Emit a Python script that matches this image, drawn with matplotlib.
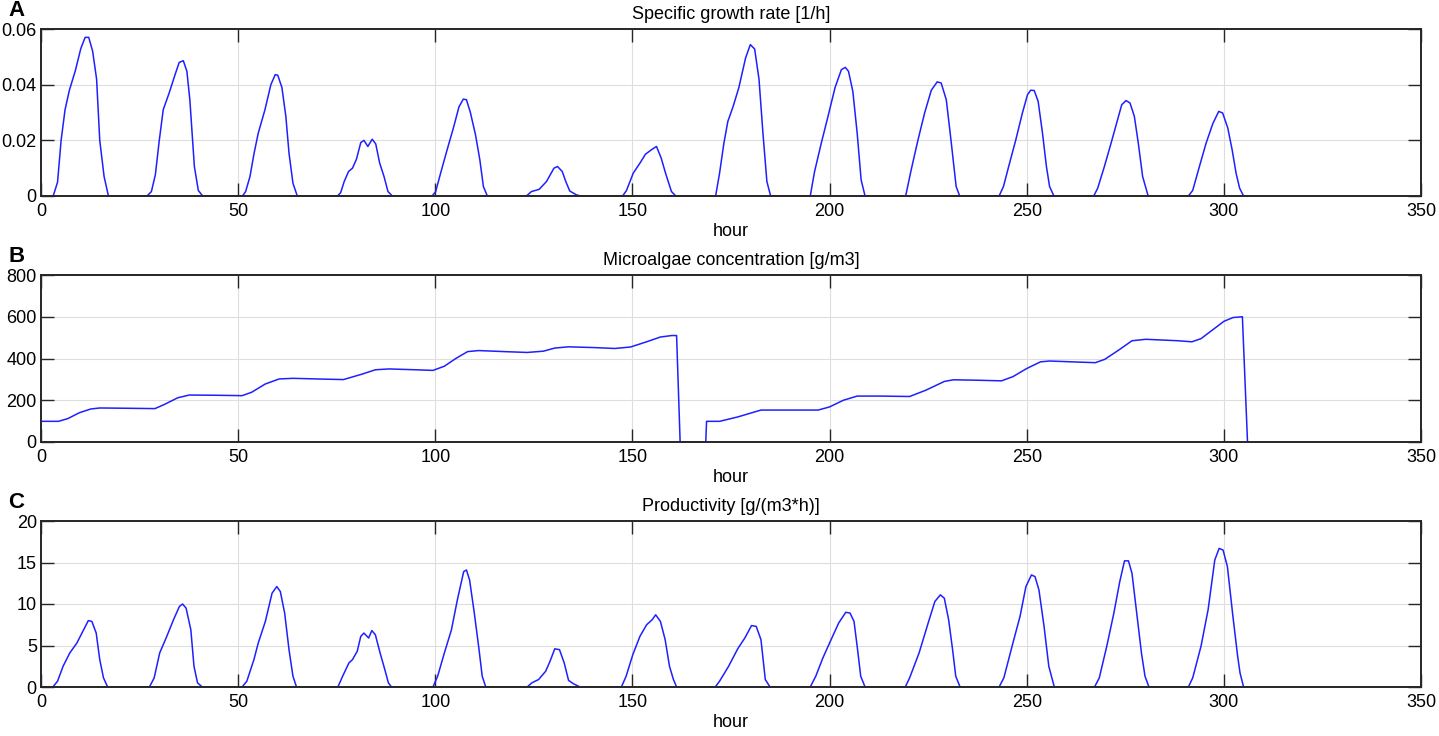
import matplotlib
matplotlib.use('Agg')
import matplotlib.pyplot as plt

plt.rcParams['font.family'] = ['Liberation Sans', 'DejaVu Sans']

# 1. Data
# A: specific growth rate [1/h]
a_hour = [0, 3.1, 4.2, 5.1, 6.1, 7.2, 8.7, 10.1, 11.2, 12.1, 13.1, 14.1, 14.9, 16.0, 17.1,
          26.9, 28.0, 29.0, 30.0, 31.0, 32.5, 34.0, 35.05, 36.1, 37.0, 37.75, 38.9, 39.9, 41.0,
          51.1, 51.9, 53.0, 54.05, 55.1, 56.8, 58.3, 59.4, 60.05, 61.1, 62.1, 62.9, 63.9, 65.0,
          75.2, 76.0, 76.9, 78.0, 79.0, 80.0, 81.1, 81.9, 82.9, 84.0, 84.9, 85.9, 87.0, 88.0, 89.1,
          99.2, 100.1, 101.35, 103.0, 104.7, 106.0, 107.1, 107.9, 108.9, 110.2, 111.3, 112.2, 113.2,
          123.1, 124.4, 126.35, 128.2, 130.1, 131.0, 132.2, 133.1, 134.1, 135.8, 136.9,
          147.5, 148.5, 150.2, 151.9, 153.3, 154.8, 156.1, 157.3, 158.4, 159.9, 161.0,
          171.1, 172.1, 173.2, 174.2, 175.5, 177.0, 178.7, 179.9, 181.0, 182.1, 183.1, 184.1, 185.05,
          195.1, 196.2, 197.9, 199.6, 201.4, 203.0, 204.0, 204.8, 205.9, 207.0, 208.0, 209.0,
          219.3, 220.7, 222.4, 224.1, 225.8, 227.3, 228.3, 229.6, 230.8, 232.1, 233.0,
          243.0, 244.1, 245.5, 247.2, 248.9, 250.2, 251.0, 251.9, 252.9, 254.0, 255.0, 255.8, 256.9,
          267.0, 268.0, 269.7, 271.4, 273.05, 274.1, 275.2, 276.2, 277.3, 278.3, 279.4, 280.8,
          291.0, 292.1, 293.8, 295.5, 297.2, 298.7, 299.7, 301.0, 302.1, 303.1, 304.0, 305.0, 306.0]
a_rate = [0, 0, 0.005, 0.020, 0.031, 0.038, 0.045, 0.053, 0.057, 0.057, 0.052, 0.042, 0.020, 0.007, 0,
          0, 0.0016, 0.0076, 0.020, 0.031, 0.037, 0.0436, 0.048, 0.0486, 0.0448, 0.0346, 0.0106, 0.002, 0,
          0, 0.0016, 0.007, 0.0154, 0.0226, 0.031, 0.040, 0.0436, 0.0434, 0.039, 0.0286, 0.0154, 0.0046, 0,
          0, 0.0012, 0.0052, 0.0088, 0.010, 0.0132, 0.0192, 0.020, 0.0178, 0.0204, 0.0187, 0.0118, 0.007, 0.0016, 0,
          0, 0.0016, 0.0082, 0.0166, 0.025, 0.032, 0.0348, 0.0346, 0.030, 0.022, 0.013, 0.0034, 0,
          0, 0.0016, 0.0024, 0.0052, 0.010, 0.0106, 0.0088, 0.0052, 0.0018, 0.0004, 0,
          0, 0.002, 0.0082, 0.0118, 0.015, 0.0166, 0.0178, 0.0136, 0.0082, 0.0016, 0,
          0, 0.0082, 0.019, 0.0268, 0.032, 0.039, 0.0496, 0.0544, 0.0528, 0.042, 0.0226, 0.0052, 0,
          0, 0.0088, 0.019, 0.0286, 0.039, 0.0454, 0.0462, 0.0448, 0.0376, 0.0226, 0.0058, 0,
          0, 0.0094, 0.020, 0.0298, 0.038, 0.041, 0.0406, 0.0346, 0.020, 0.0034, 0,
          0, 0.0034, 0.011, 0.020, 0.0298, 0.0364, 0.038, 0.0379, 0.034, 0.0226, 0.0106, 0.0034, 0,
          0, 0.0028, 0.0106, 0.019, 0.0274, 0.0328, 0.0343, 0.0334, 0.0286, 0.019, 0.007, 0,
          0, 0.002, 0.0106, 0.019, 0.026, 0.0304, 0.0298, 0.0244, 0.0166, 0.0082, 0.0028, 0, 0]

# B: microalgae concentration [g/m3]
b_hour = [0, 4.4, 6.8, 9.7, 12.6, 14.9, 20, 28.9, 31.2, 34.7, 37.6, 44, 51, 53.4, 56.9, 60.4,
          63.9, 70, 76.7, 81.4, 84.8, 88.3, 95, 99.4, 102.3, 105.2, 108.2, 111, 117.5, 123.3,
          127.4, 130.3, 133.8, 140.8, 145.5, 149.5, 153.6, 157.1, 160, 161.2, 162.1, 168.6,
          168.8, 172.1, 176.7, 182.6, 189.5, 197.1, 200, 203.5, 207, 212.8, 220.3, 224.4, 229.1,
          231.4, 237.2, 243.6, 246.5, 250, 253.5, 255.8, 262.8, 267.4, 269.8, 273.3, 276.7,
          280.2, 288.4, 291.9, 294.2, 297.7, 300, 302.3, 304.7, 306]
b_conc = [99, 99, 112, 140, 158, 163, 162, 160, 179, 212, 225, 224, 222, 238, 278, 302,
          305, 302, 299, 325, 346, 350, 346, 343, 363, 400, 433, 438, 433, 429,
          435, 450, 456, 452, 448, 455, 480, 503, 510, 510, 0, 0,
          99, 99, 120, 153, 153, 153, 168, 200, 220, 220, 218, 248, 290,
          298, 296, 293, 313, 352, 384, 388, 383, 380, 396, 440, 485,
          492, 485, 480, 495, 545, 578, 596, 600, 0]

# C: productivity [g/(m3*h)]
c_hour = [0, 3.0, 4.2, 5.6, 7.3, 9.1, 10.8, 12.0, 12.9, 14.0, 14.9, 15.85, 16.9,
          27.5, 28.7, 30.1, 31.9, 33.6, 35.1, 35.9, 36.8, 38.0, 38.8, 39.7, 40.9,
          51.0, 52.2, 54.0, 55.1, 56.9, 58.6, 59.8, 60.7, 61.8, 62.9, 63.9, 64.8,
          75.3, 76.5, 78.1, 79.0, 80.2, 81.1, 81.9, 83.1, 83.9, 84.8, 86.0, 87.2, 88.1, 88.9,
          99.4, 100.6, 102.3, 104.1, 105.6, 107.2, 107.9, 108.7, 109.9, 111.1, 111.9, 112.8,
          123.3, 124.5, 126.2, 128.0, 129.1, 130.3, 131.5, 132.7, 133.8, 135.0, 136.7,
          147.2, 148.4, 150.1, 151.9, 153.6, 155.0, 155.9, 157.1, 158.3, 159.4, 160.4, 161.2,
          171.0, 172.1, 174.4, 176.7, 178.5, 180.2, 181.4, 182.6, 183.7, 184.9,
          195.1, 196.5, 198.3, 200, 202.3, 204.1, 205.2, 206.2, 207.0, 207.9, 209.0,
          219.2, 220.3, 222.7, 225.0, 226.7, 228.1, 229.1, 230.2, 231.2, 232.0, 233.1,
          243.0, 244.2, 246.5, 248.3, 249.8, 251.2, 252.1, 253.1, 254.4, 255.6, 257.0,
          267.2, 268.4, 270.3, 272.1, 273.6, 274.8, 275.8, 276.7, 277.9, 279.1, 280.0, 281.0,
          291.0, 292.1, 294.2, 296.0, 297.7, 298.8, 299.8, 300.9, 302.3, 303.5, 304.1, 305.0, 306.0]
c_prod = [0, 0, 0.7, 2.5, 4.1, 5.3, 6.9, 8.0, 7.9, 6.5, 3.3, 1.1, 0,
          0, 1.1, 4.1, 6.1, 8.1, 9.7, 10.0, 9.5, 6.9, 2.5, 0.5, 0,
          0, 0.7, 3.3, 5.3, 7.9, 11.3, 12.1, 11.5, 8.9, 4.5, 1.3, 0,
          0, 1.3, 2.9, 3.3, 4.3, 6.1, 6.5, 5.9, 6.8, 6.3, 4.1, 2.1, 0.5, 0,
          0, 1.3, 4.1, 6.9, 10.5, 13.9, 14.1, 12.9, 8.9, 4.5, 1.3, 0,
          0, 0.5, 0.9, 1.9, 3.1, 4.6, 4.5, 2.9, 0.8, 0.4, 0,
          0, 1.3, 3.9, 6.1, 7.5, 8.1, 8.7, 7.9, 5.7, 2.5, 0.9, 0,
          0, 0.7, 2.5, 4.6, 5.9, 7.4, 7.3, 5.7, 0.9, 0,
          0, 1.3, 3.5, 5.3, 7.7, 9.0, 8.9, 7.9, 4.9, 1.3, 0,
          0, 1.1, 4.1, 7.7, 10.3, 11.1, 10.7, 8.1, 4.5, 1.3, 0,
          0, 1.1, 5.3, 8.5, 12.1, 13.5, 13.3, 11.7, 7.3, 2.5, 0,
          0, 1.1, 4.9, 8.9, 12.7, 15.2, 15.2, 13.7, 8.9, 4.1, 1.3, 0,
          0, 1.1, 4.9, 9.3, 15.3, 16.7, 16.5, 14.5, 8.5, 3.7, 1.7, 0, 0]

panels = [
    ('A', 'Specific growth rate [1/h]', a_hour, a_rate, [0, 0.02, 0.04, 0.06], ['0', '0.02', '0.04', '0.06']),
    ('B', 'Microalgae concentration [g/m3]', b_hour, b_conc, [0, 200, 400, 600, 800], ['0', '200', '400', '600', '800']),
    ('C', 'Productivity [g/(m3*h)]', c_hour, c_prod, [0, 5, 10, 15, 20], ['0', '5', '10', '15', '20']),
]

# 2. Figure with three stacked MATLAB-style axes
fig = plt.figure(figsize=(14.39, 7.36), dpi=100)
W, H = 1439, 736
boxes = [(41, 29, 1421, 196), (41, 275, 1421, 442), (41, 521, 1421, 687)]  # px: left, top, right, bottom

for (letter, title, xs, ys, yt, ytl), (l, t, r, b) in zip(panels, boxes):
    ax = fig.add_axes([l / W, 1 - b / H, (r - l) / W, (b - t) / H])
    # line under the spines, so the zero stretches hide behind the axis like in MATLAB
    ax.plot(xs, ys, color='#1f1fff', linewidth=1.1, zorder=2)

    ax.set_xlim(0, 350)
    ax.set_ylim(yt[0], yt[-1])
    ax.set_xticks(range(0, 351, 50))
    ax.set_yticks(yt)
    ax.set_yticklabels(ytl)

    ax.grid(True, color='#dedede', linewidth=0.8, linestyle='-', zorder=0)
    ax.set_axisbelow(True)
    ax.tick_params(direction='in', top=True, right=True, length=9.5, width=1.0,
                   color='#262626', labelsize=13, pad=5)
    ax.tick_params(axis='y', pad=3)
    for s in ax.spines.values():
        s.set_color('#262626')
        s.set_linewidth(1.4)
        s.set_zorder(3)

    ax.set_title(title, fontsize=13, pad=7)
    ax.set_xlabel('hour', fontsize=13, labelpad=2)
    fig.text(8 / W, 1 - (t - 18) / H, letter, fontsize=16, fontweight='bold', va='center', ha='left')

plt.savefig('out.png', dpi=100)
